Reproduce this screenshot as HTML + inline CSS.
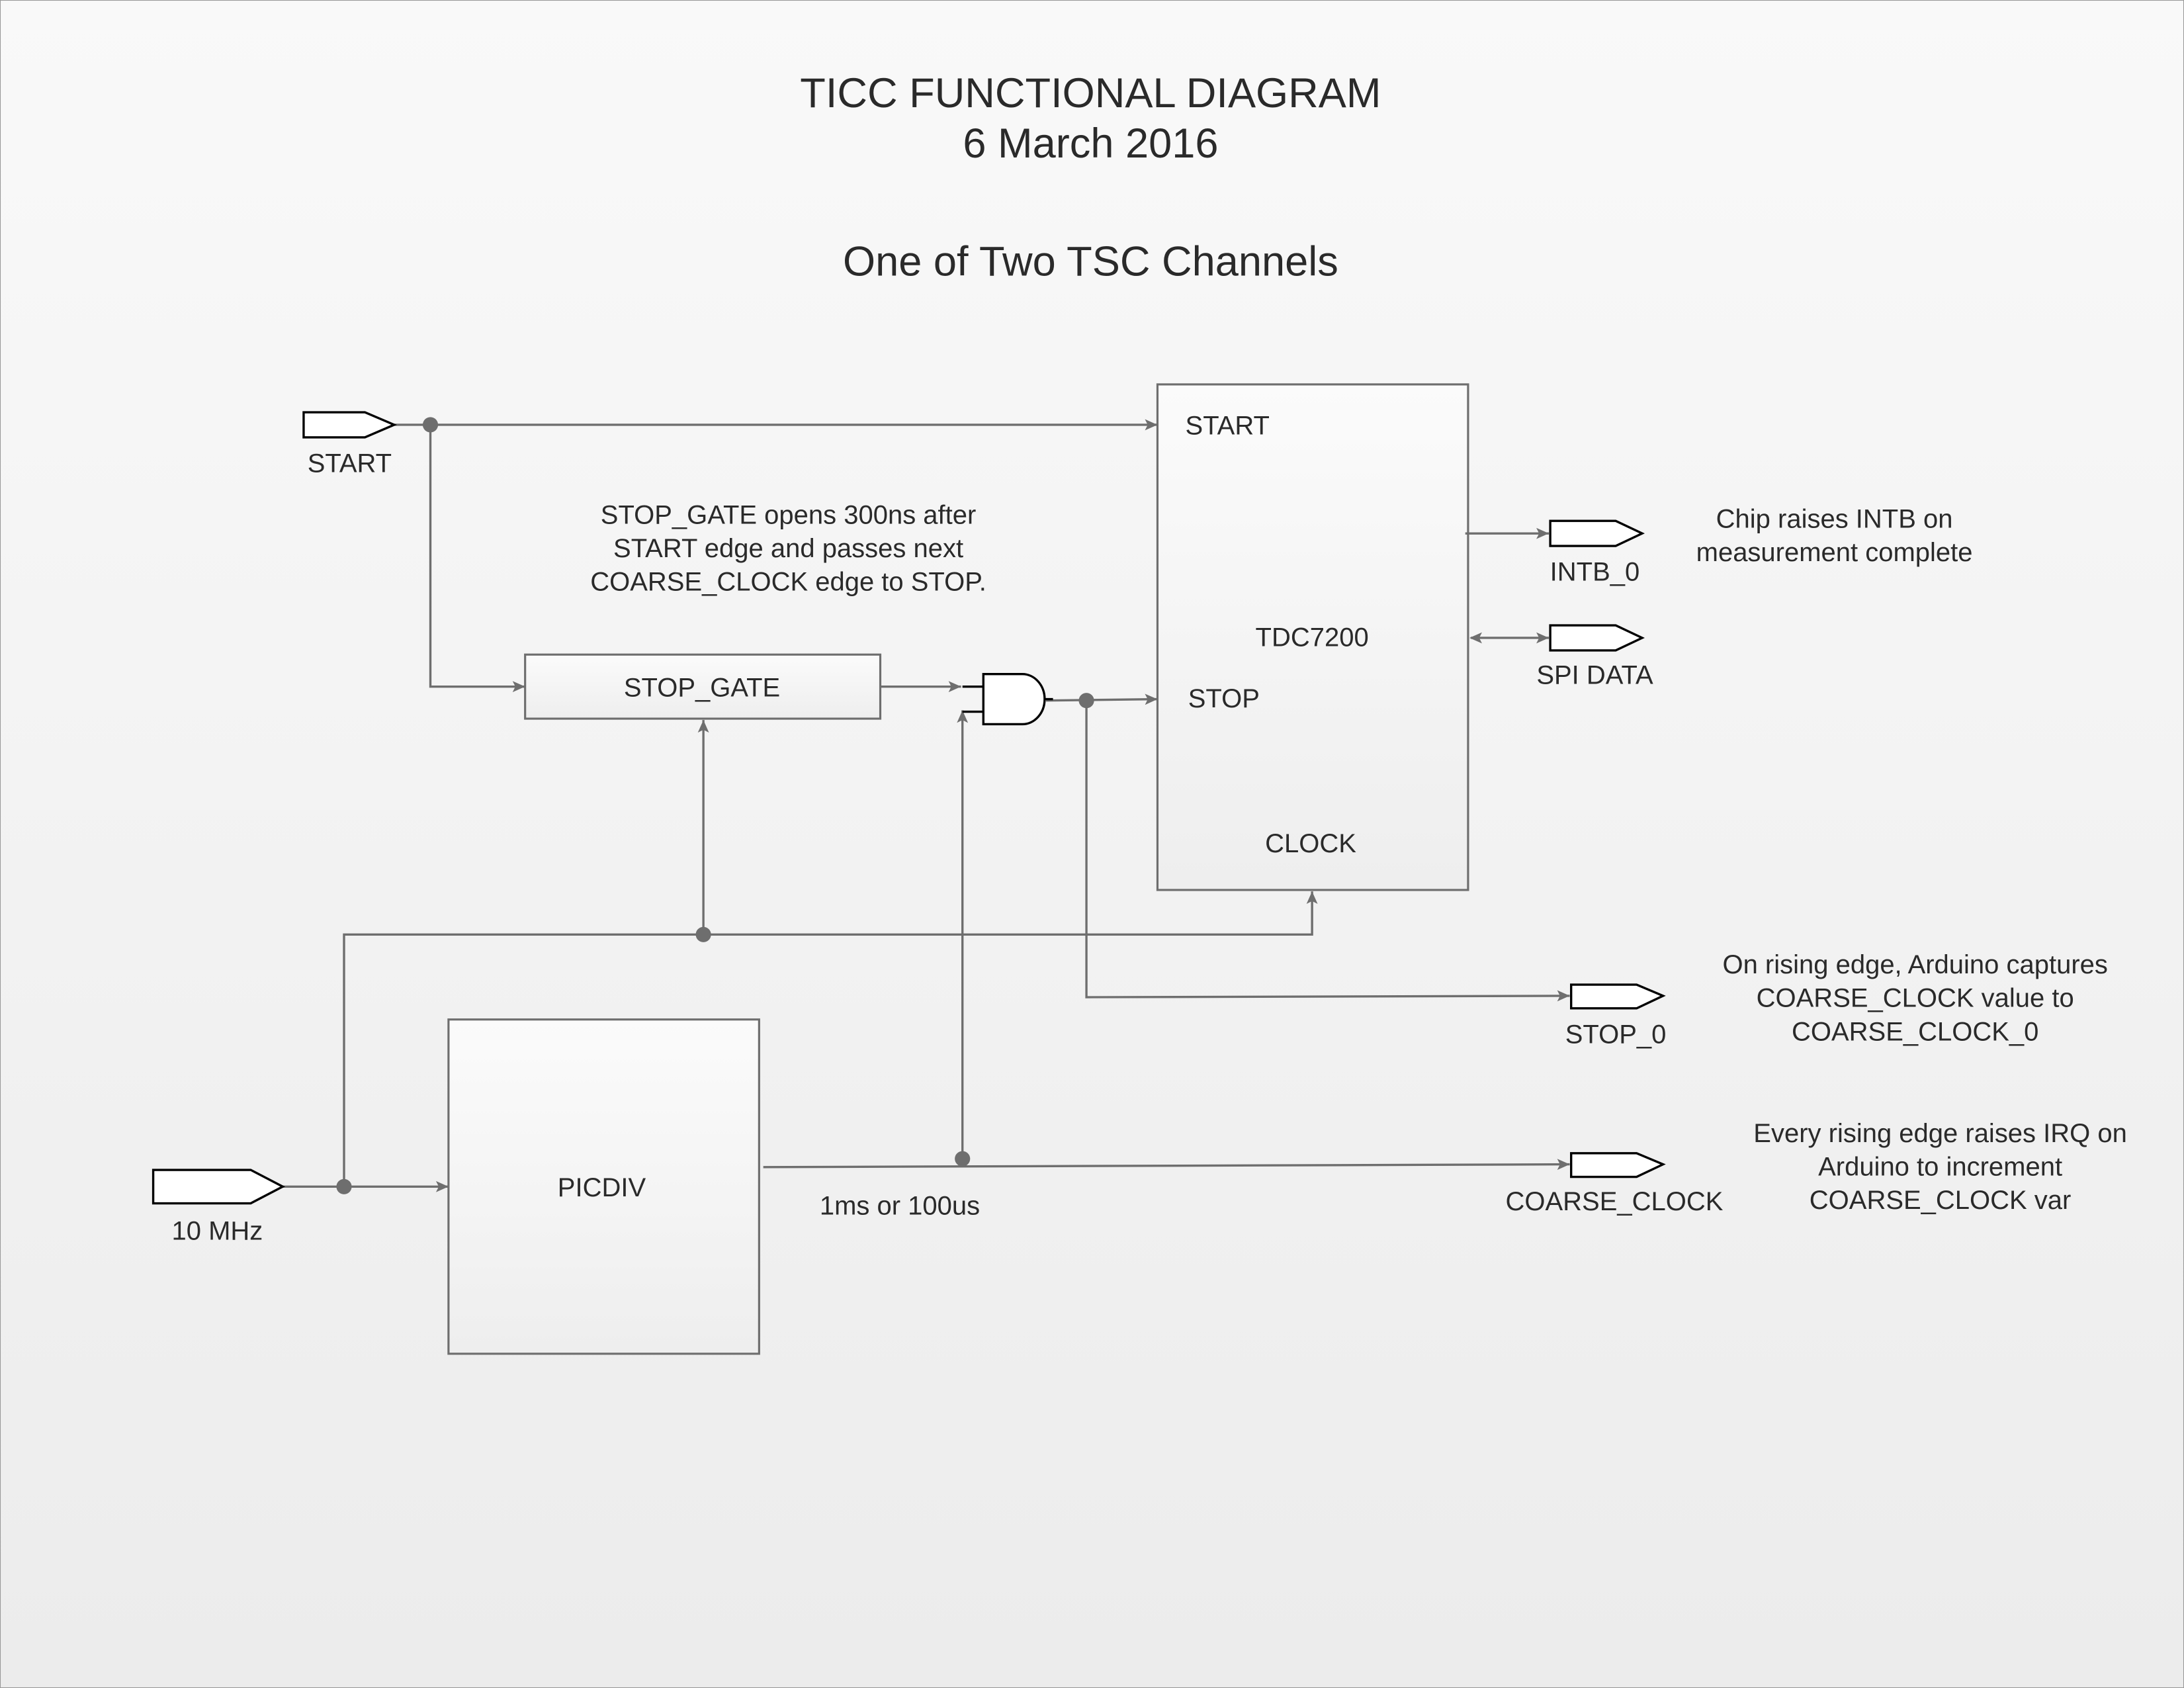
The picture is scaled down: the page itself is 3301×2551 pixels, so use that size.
<!DOCTYPE html>
<html><head><meta charset="utf-8"><style>
html,body{margin:0;padding:0;width:3301px;height:2551px;overflow:hidden;background:#f7f7f7}
svg{display:block}
text{font-family:"Liberation Sans",sans-serif;fill:#2a2a2a}
</style></head><body>
<svg width="3301" height="2551" viewBox="0 0 1568 1212" preserveAspectRatio="none" xmlns="http://www.w3.org/2000/svg">
<defs>
<linearGradient id="bg" x1="0" y1="0" x2="0" y2="1"><stop offset="0" stop-color="#f9f9f9"/><stop offset="1" stop-color="#ececec"/></linearGradient>
<linearGradient id="bx" x1="0" y1="0" x2="0" y2="1"><stop offset="0" stop-color="#fbfbfb"/><stop offset="1" stop-color="#eeeeee"/></linearGradient>
<marker id="a" markerWidth="10" markerHeight="8" refX="9" refY="4" orient="auto" markerUnits="userSpaceOnUse"><path d="M0,0 L9,4 L0,8 L2,4 Z" fill="#6e6e6e"/></marker>
<marker id="as" markerWidth="10" markerHeight="8" refX="1" refY="4" orient="auto" markerUnits="userSpaceOnUse"><path d="M9,0 L0,4 L9,8 L7,4 Z" fill="#6e6e6e"/></marker>
</defs>
<rect x="0" y="0" width="1568" height="1212" fill="url(#bg)" stroke="#999" stroke-width="1"/>
<g text-anchor="middle" font-size="30">
<text x="783" y="77">TICC FUNCTIONAL DIAGRAM</text>
<text x="783" y="113">6 March 2016</text>
<text x="783" y="198">One of Two TSC Channels</text>
</g>
<!-- boxes -->
<rect x="831" y="276" width="223" height="363" fill="url(#bx)" stroke="#6e6e6e" stroke-width="1.5"/>
<rect x="377" y="470" width="255" height="46" fill="url(#bx)" stroke="#6e6e6e" stroke-width="1.5"/>
<rect x="322" y="732" width="223" height="240" fill="url(#bx)" stroke="#6e6e6e" stroke-width="1.5"/>
<!-- wires -->
<g stroke="#6e6e6e" stroke-width="1.6" fill="none">
<path d="M283,305 L831,305" marker-end="url(#a)"/>
<path d="M309,305 L309,493 L377,493" marker-end="url(#a)"/>
<path d="M632,493 L690,493" marker-end="url(#a)"/>
<path d="M751,503 L831,502" marker-end="url(#a)"/>
<path d="M780,503 L780,716 L1127,715" marker-end="url(#a)"/>
<path d="M691,832 L691,510" marker-end="url(#a)"/>
<path d="M203,852 L322,852" marker-end="url(#a)"/>
<path d="M247,852 L247,671 L942,671 L942,640" marker-end="url(#a)"/>
<path d="M505,671 L505,517" marker-end="url(#a)"/>
<path d="M548,838 L1127,836" marker-end="url(#a)"/>
<path d="M1052,383 L1112,383" marker-end="url(#a)"/>
<path d="M1056,458 L1112,458" marker-end="url(#a)" marker-start="url(#as)"/>
</g>
<g fill="#6e6e6e">
<circle cx="309" cy="305" r="5.5"/><circle cx="780" cy="503" r="5.5"/>
<circle cx="505" cy="671" r="5.5"/><circle cx="247" cy="852" r="5.5"/>
<circle cx="691" cy="832" r="5.5"/>
</g>
<!-- AND gate -->
<g stroke="#000" stroke-width="1.6">
<path d="M691,493 L706,493 M691,511 L706,511 M750,502 L756,502"/>
<path d="M706,484 L734,484 A16,18 0 0 1 734,520 L706,520 Z" fill="#fff"/>
</g>
<!-- ports -->
<g fill="#fff" stroke="#000" stroke-width="1.6">
<path d="M218,296 L262,296 L283,305 L262,314 L218,314 Z"/>
<path d="M110,840 L180,840 L203,852 L180,864 L110,864 Z"/>
<path d="M1113,374 L1160,374 L1179,383 L1160,392 L1113,392 Z"/>
<path d="M1113,449 L1160,449 L1179,458 L1160,467 L1113,467 Z"/>
<path d="M1128,707 L1175,707 L1194,715 L1175,724 L1128,724 Z"/>
<path d="M1128,828 L1175,828 L1194,836 L1175,845 L1128,845 Z"/>
</g>
<!-- labels -->
<g font-size="19" text-anchor="middle">
<text x="251" y="339">START</text>
<text x="156" y="890">10 MHz</text>
<text x="1145" y="417">INTB_0</text>
<text x="1145" y="491">SPI DATA</text>
<text x="1160" y="749">STOP_0</text>
<text x="1159" y="869">COARSE_CLOCK</text>
<text x="504" y="500">STOP_GATE</text>
<text x="432" y="859">PICDIV</text>
<text x="942" y="464">TDC7200</text>
<text x="941" y="612">CLOCK</text>
<text x="646" y="872">1ms or 100us</text>
<text x="566" y="376">STOP_GATE opens 300ns after</text>
<text x="566" y="400">START edge and passes next</text>
<text x="566" y="424">COARSE_CLOCK edge to STOP.</text>
<text x="1317" y="379">Chip raises INTB on</text>
<text x="1317" y="403">measurement complete</text>
<text x="1375" y="699">On rising edge, Arduino captures</text>
<text x="1375" y="723">COARSE_CLOCK value to</text>
<text x="1375" y="747">COARSE_CLOCK_0</text>
<text x="1393" y="820">Every rising edge raises IRQ on</text>
<text x="1393" y="844">Arduino to increment</text>
<text x="1393" y="868">COARSE_CLOCK var</text>
</g>
<g font-size="19">
<text x="851" y="312">START</text>
<text x="853" y="508">STOP</text>
</g>
</svg>
</body></html>
